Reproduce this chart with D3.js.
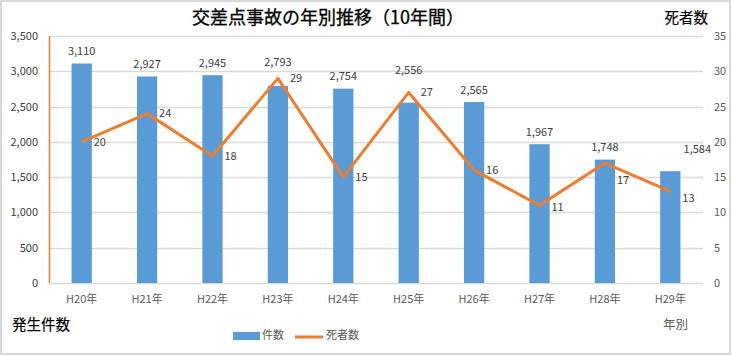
<!DOCTYPE html>
<html><head><meta charset="utf-8">
<script src="https://cdn.jsdelivr.net/npm/d3@7"></script>
<style>
html,body{margin:0;padding:0;background:#fff;}
svg{display:block;}
</style></head>
<body>
<svg id="c" width="732" height="356"></svg>
<script>
const categories = ["H20年","H21年","H22年","H23年","H24年","H25年","H26年","H27年","H28年","H29年"];
const accidents = [3110, 2927, 2945, 2793, 2754, 2556, 2565, 1967, 1748, 1584];
const deaths = [20, 24, 18, 29, 15, 27, 16, 11, 17, 13];
const leftTicks = [0,500,1000,1500,2000,2500,3000,3500];
const rightTicks = [0,5,10,15,20,25,30,35];

const F = "'Noto Sans CJK JP','Noto Sans',sans-serif";
const svg = d3.select("#c");
const W = 732, H = 356;
const m = {l:49, r:703, t:36, b:283};

svg.append("rect").attr("x",1).attr("y",1).attr("width",W-3).attr("height",H-3)
  .attr("fill","#fff").attr("stroke","#d9d9d9").attr("stroke-width",2);

const x = d3.scaleBand().domain(categories).range([m.l,m.r]).paddingInner(0.69).paddingOuter(0.345);
const yL = d3.scaleLinear().domain([0,3500]).range([m.b,m.t]);
const yR = d3.scaleLinear().domain([0,35]).range([m.b,m.t]);
const cx = d => x(d)+x.bandwidth()/2;

// gridlines
svg.append("g").selectAll("line").data(leftTicks).join("line")
  .attr("x1",m.l).attr("x2",m.r).attr("y1",d=>Math.round(yL(d))+0.5).attr("y2",d=>Math.round(yL(d))+0.5)
  .attr("stroke","#d9d9d9").attr("stroke-width",1.3);

// left axis
const gl = svg.append("g").attr("transform",`translate(${m.l-11},0)`)
  .call(d3.axisLeft(yL).tickValues(leftTicks).tickSize(0).tickPadding(0).tickFormat(d3.format(",")));
gl.select(".domain").remove();
gl.selectAll("text").attr("font-family",F).attr("font-size",11).attr("fill","#404040");

// right axis
const gr = svg.append("g").attr("transform",`translate(${m.r+11},0)`)
  .call(d3.axisRight(yR).tickValues(rightTicks).tickSize(0).tickPadding(0));
gr.select(".domain").remove();
gr.selectAll("text").attr("font-family",F).attr("font-size",11).attr("fill","#595959");

// x axis
const gx = svg.append("g").attr("transform",`translate(0,${m.b+12})`)
  .call(d3.axisBottom(x).tickSize(0).tickPadding(0));
gx.select(".domain").remove();
gx.selectAll("text").attr("font-family",F).attr("font-size",11).attr("fill","#595959");

// orange left axis line
svg.append("line").attr("x1",m.l+0.5).attr("x2",m.l+0.5).attr("y1",m.t).attr("y2",m.b)
  .attr("stroke","#ED7D31").attr("stroke-width",1.5);

// bars
svg.append("g").selectAll("rect").data(accidents).join("rect")
  .attr("x",(d,i)=>x(categories[i])).attr("width",x.bandwidth())
  .attr("y",d=>yL(d)).attr("height",d=>m.b-yL(d)).attr("fill","#5B9BD5");

// line
const line = d3.line().x((d,i)=>cx(categories[i])).y(d=>yR(d));
svg.append("path").datum(deaths).attr("d",line).attr("fill","none")
  .attr("stroke","#ED7D31").attr("stroke-width",3).attr("stroke-linejoin","round");

// bar labels (with small collision shifts like the original)
const barShift = {3:[0,-12], 5:[0,-20], 9:[27,-10]};
svg.append("g").selectAll("text").data(accidents).join("text")
  .attr("x",(d,i)=>cx(categories[i])+(barShift[i]?barShift[i][0]:0))
  .attr("y",(d,i)=>yL(d)-12+(barShift[i]?barShift[i][1]:0))
  .attr("dy","0.35em").attr("text-anchor","middle")
  .attr("font-family",F).attr("font-size",11).attr("fill","#404040")
  .text(d=>d3.format(",")(d));

// line labels
const lineShift = {8:[0,17], 9:[0,7], 7:[0,2]};
svg.append("g").selectAll("text").data(deaths).join("text")
  .attr("x",(d,i)=>cx(categories[i])+12+(lineShift[i]?lineShift[i][0]:0))
  .attr("y",(d,i)=>yR(d)+(lineShift[i]?lineShift[i][1]:0))
  .attr("dy","0.35em").attr("text-anchor","start")
  .attr("font-family",F).attr("font-size",11).attr("fill","#404040")
  .text(d=>d);

// title
svg.append("text").attr("x",328).attr("y",18).attr("dy","0.35em").attr("text-anchor","middle")
  .attr("font-family",F).attr("font-size",18).attr("font-weight","normal").attr("fill","#000")
  .attr("stroke","#000").attr("stroke-width",0.3)
  .text("交差点事故の年別推移（10年間）");

// axis titles
svg.append("text").attr("x",708).attr("y",18).attr("dy","0.35em").attr("text-anchor","end")
  .attr("font-family",F).attr("font-size",14.5).attr("fill","#000").attr("stroke","#000").attr("stroke-width",0.2).text("死者数");
svg.append("text").attr("x",12).attr("y",325).attr("dy","0.35em").attr("text-anchor","start")
  .attr("font-family",F).attr("font-size",14.5).attr("fill","#000").attr("stroke","#000").attr("stroke-width",0.2).text("発生件数");
svg.append("text").attr("x",663).attr("y",325).attr("dy","0.35em").attr("text-anchor","start")
  .attr("font-family",F).attr("font-size",12.5).attr("fill","#595959").text("年別");

// legend
const lg = svg.append("g");
lg.append("rect").attr("x",233).attr("y",332).attr("width",27).attr("height",8).attr("fill","#5B9BD5");
lg.append("text").attr("x",262).attr("y",335).attr("dy","0.35em").attr("font-family",F).attr("font-size",11).attr("fill","#595959").text("件数");
lg.append("line").attr("x1",295).attr("x2",323).attr("y1",337).attr("y2",337).attr("stroke","#ED7D31").attr("stroke-width",3);
lg.append("text").attr("x",326).attr("y",335).attr("dy","0.35em").attr("font-family",F).attr("font-size",11).attr("fill","#595959").text("死者数");
</script>
</body></html>
